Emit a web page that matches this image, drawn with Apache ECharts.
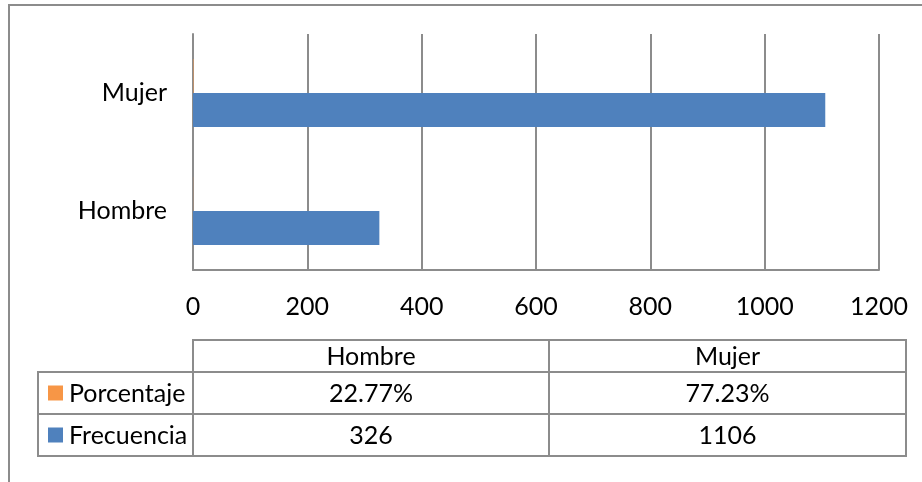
<!DOCTYPE html>
<html>
<head>
<meta charset="utf-8">
<script src="https://cdn.jsdelivr.net/npm/echarts@6/dist/echarts.min.js"></script>
<style>
html,body{margin:0;padding:0;background:#fff;}
#c{width:922px;height:482px;}
</style>
</head>
<body>
<div id="c"></div>
<script>
const categories = ['Hombre', 'Mujer'];
const frecuencia = [326, 1106];
const porcentaje = [0.2277, 0.7723];
const xTicks = [0, 200, 400, 600, 800, 1000, 1200];
const seriesNames = ['Porcentaje', 'Frecuencia'];
const seriesColors = ['#F79646', '#4F81BD'];

const FONT = 'Lato';
const FS = 25;
const GRAY = '#8c8c8c';

const chart = echarts.init(document.getElementById('c'));

// table layout
const tLeft = 38, tC1 = 193, tC2 = 549, tRight = 906;
const rowY = [340, 372, 414, 456];

const pct = v => (v * 100).toFixed(2) + '%';
const rowsData = [porcentaje.map(pct), frecuencia.map(String)];

const g = [];
// outer border
g.push({type:'rect', shape:{x:9, y:5, width:1000, height:1000}, style:{fill:'none', stroke:GRAY, lineWidth:2}, silent:true});
// header box
g.push({type:'rect', shape:{x:tC1, y:rowY[0], width:tRight - tC1, height:rowY[1] - rowY[0]}, style:{fill:'none', stroke:GRAY, lineWidth:2}});
// body box
g.push({type:'rect', shape:{x:tLeft, y:rowY[1], width:tRight - tLeft, height:rowY[3] - rowY[1]}, style:{fill:'none', stroke:GRAY, lineWidth:2}});
g.push({type:'line', shape:{x1:tLeft, y1:rowY[2], x2:tRight, y2:rowY[2]}, style:{stroke:GRAY, lineWidth:2}});
g.push({type:'line', shape:{x1:tC1, y1:rowY[1], x2:tC1, y2:rowY[3]}, style:{stroke:GRAY, lineWidth:2}});
g.push({type:'line', shape:{x1:tC2, y1:rowY[0], x2:tC2, y2:rowY[3]}, style:{stroke:GRAY, lineWidth:2}});
const colCenters = [(tC1 + tC2) / 2, (tC2 + tRight) / 2];
categories.forEach((c, i) => {
  g.push({type:'text', x:colCenters[i], y:(rowY[0] + rowY[1]) / 2 + 1, style:{text:c, fill:'#000', font:FS + 'px ' + FONT, align:'center', verticalAlign:'middle'}});
});
seriesNames.forEach((s, r) => {
  const yc = (rowY[r + 1] + rowY[r + 2]) / 2;
  g.push({type:'rect', shape:{x:48, y:yc - 7.5, width:15, height:15}, style:{fill:seriesColors[r]}});
  g.push({type:'text', x:69, y:yc + 1, style:{text:s, fill:'#000', font:FS + 'px ' + FONT, align:'left', verticalAlign:'middle'}});
  rowsData[r].forEach((v, i) => {
    g.push({type:'text', x:colCenters[i], y:yc + 1, style:{text:v, fill:'#000', font:FS + 'px ' + FONT, align:'center', verticalAlign:'middle'}});
  });
});

chart.setOption({
  animation:false,
  backgroundColor:'#fff',
  grid:{left:193, top:34, width:686, height:236, containLabel:false},
  xAxis:{
    type:'value', min:0, max:xTicks[xTicks.length - 1], interval:xTicks[1] - xTicks[0],
    axisLine:{show:true, lineStyle:{color:GRAY, width:2}},
    axisTick:{show:false},
    splitLine:{show:true, lineStyle:{color:GRAY, width:2}},
    axisLabel:{color:'#000', fontFamily:FONT, fontSize:FS, margin:24, formatter:v => String(v)}
  },
  yAxis:{
    type:'category', data:categories,
    axisLine:{show:true, lineStyle:{color:GRAY, width:2}},
    axisTick:{show:false},
    axisLabel:{color:'#000', fontFamily:FONT, fontSize:FS, margin:26}
  },
  series:[
    {name:seriesNames[0], type:'bar', data:porcentaje, barWidth:34, barGap:'0%', itemStyle:{color:seriesColors[0]}},
    {name:seriesNames[1], type:'bar', data:frecuencia, barWidth:34, barGap:'0%', itemStyle:{color:seriesColors[1]}}
  ],
  graphic:g
});
</script>
</body>
</html>
